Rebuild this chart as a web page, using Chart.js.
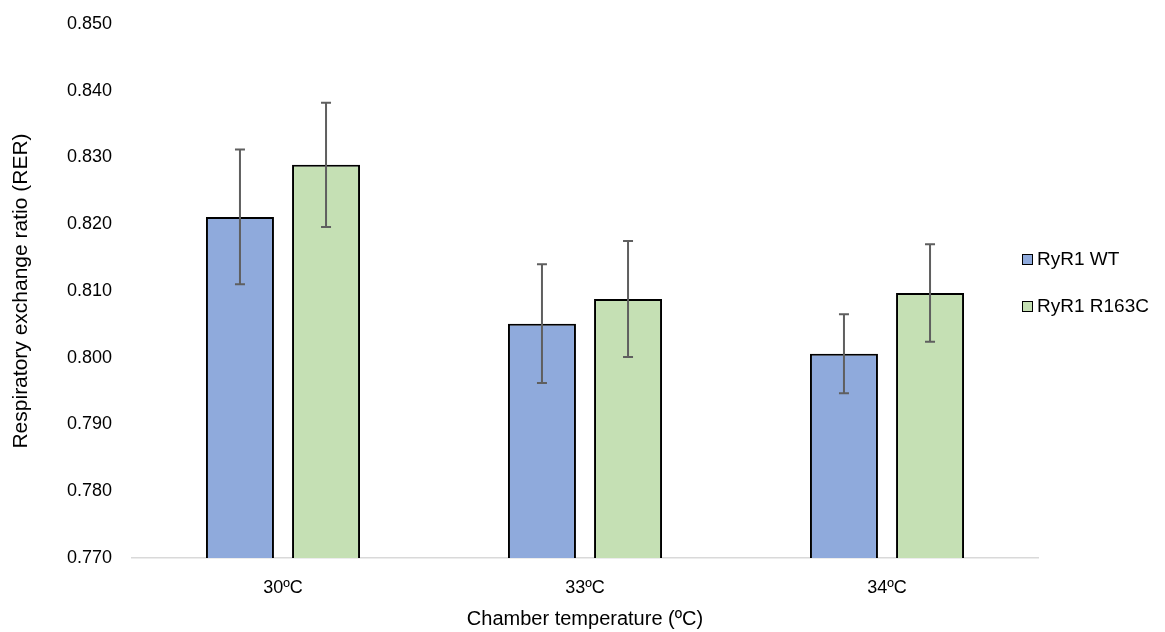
<!DOCTYPE html>
<html>
<head>
<meta charset="utf-8">
<script src="https://cdn.jsdelivr.net/npm/chart.js@4"></script>
<style>
  body { margin: 0; background: #fff; }
  #wrap { position: relative; width: 1165px; height: 632px; }
  #legend { position: absolute; left: 1022px; top: 246px; font-family: "Liberation Sans", Arial, sans-serif; font-size: 19px; color: #000; }
  #legend div { display: flex; align-items: center; height: 26px; margin-bottom: 21px; }
  #legend span.box { display: inline-block; width: 9px; height: 9px; border: 1.5px solid #000; margin-right: 4px; }
</style>
</head>
<body>
<div id="wrap">
  <canvas id="barChart" width="1165" height="632"></canvas>
  <div id="legend"></div>
</div>
<script>
var categories = ['30ºC', '33ºC', '34ºC'];
var seriesNames = ['RyR1 WT', 'RyR1 R163C'];
var wtValues = [0.8211, 0.8051, 0.8006];
var r163cValues = [0.8289, 0.8088, 0.8097];
var wtErrors = [0.0101, 0.0089, 0.0059];
var r163cErrors = [0.0093, 0.0087, 0.0073];
var colors = ['#8FAADC', '#C5E0B4'];

var errorBars = {
    id: 'errorBars',
    afterDatasetsDraw: function(chart) {
        var ctx = chart.ctx;
        var y = chart.scales.y;
        var errs = [wtErrors, r163cErrors];
        ctx.save();
        ctx.strokeStyle = '#5f5f5f';
        ctx.lineWidth = 2;
        chart.data.datasets.forEach(function(ds, i) {
            chart.getDatasetMeta(i).data.forEach(function(bar, j) {
                var top = y.getPixelForValue(ds.data[j] + errs[i][j]);
                var bot = y.getPixelForValue(ds.data[j] - errs[i][j]);
                ctx.beginPath();
                ctx.moveTo(bar.x, top); ctx.lineTo(bar.x, bot);
                ctx.moveTo(bar.x - 5, top); ctx.lineTo(bar.x + 5, top);
                ctx.moveTo(bar.x - 5, bot); ctx.lineTo(bar.x + 5, bot);
                ctx.stroke();
            });
        });
        ctx.restore();
    }
};

var font = "'Liberation Sans', Arial, sans-serif";
Chart.defaults.font.family = font;
Chart.defaults.color = '#000';

var ctx = document.getElementById('barChart').getContext('2d');
var chart = new Chart(ctx, {
    type: 'bar',
    data: {
        labels: categories,
        datasets: [{
            label: seriesNames[0],
            data: wtValues,
            backgroundColor: colors[0],
            borderColor: '#000',
            borderWidth: 2,
            categoryPercentage: 0.57,
            barPercentage: 0.79
        }, {
            label: seriesNames[1],
            data: r163cValues,
            backgroundColor: colors[1],
            borderColor: '#000',
            borderWidth: 2,
            categoryPercentage: 0.57,
            barPercentage: 0.79
        }]
    },
    options: {
        responsive: false,
        animation: false,
        layout: { padding: { left: 0, right: 127, top: 24, bottom: 0 } },
        plugins: { legend: { display: false }, tooltip: { enabled: false } },
        scales: {
            x: {
                grid: { display: false },
                border: { color: '#d9d9d9', width: 1.5 },
                ticks: { font: { size: 18 }, padding: 11 },
                title: { display: true, text: 'Chamber temperature (ºC)', font: { size: 20 }, padding: { top: 0, bottom: 1 } },
                afterFit: function(s) { s.height = 74; s.paddingLeft = 0; s.paddingRight = 0; }
            },
            y: {
                min: 0.77,
                max: 0.85,
                grid: { display: false, drawTicks: false },
                border: { display: false },
                ticks: {
                    stepSize: 0.01,
                    font: { size: 18 },
                    padding: 20,
                    callback: function(v) { return v.toFixed(3); }
                },
                title: { display: true, text: 'Respiratory exchange ratio (RER)', font: { size: 21 }, padding: { top: 9, bottom: 0 } },
                afterFit: function(s) { s.width = 132; s.paddingTop = 0; s.paddingBottom = 0; }
            }
        }
    },
    plugins: [errorBars]
});

var legend = document.getElementById('legend');
seriesNames.forEach(function(name, i) {
    var row = document.createElement('div');
    var box = document.createElement('span');
    box.className = 'box';
    box.style.background = colors[i];
    row.appendChild(box);
    row.appendChild(document.createTextNode(name));
    legend.appendChild(row);
});
</script>
</body>
</html>
